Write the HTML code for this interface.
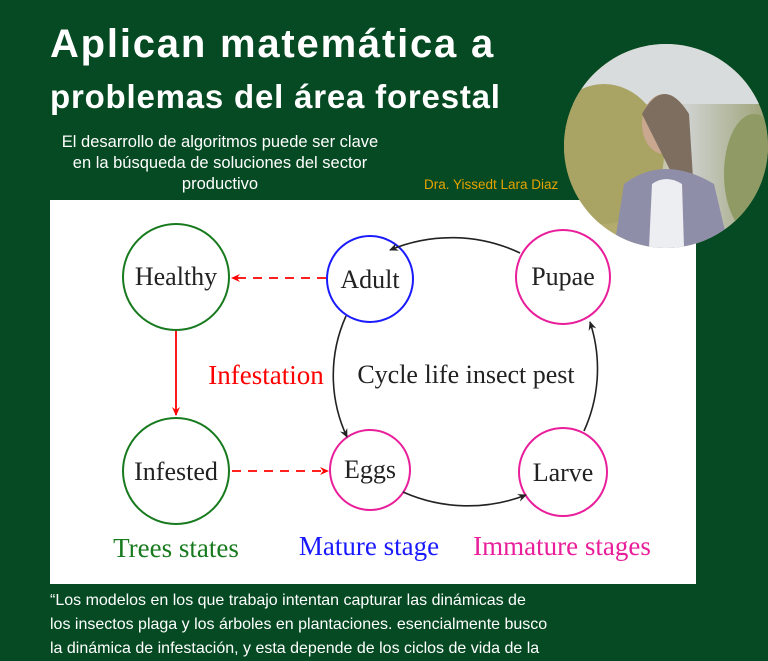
<!DOCTYPE html>
<html><head><meta charset="utf-8"><style>
body{margin:0;width:768px;height:660px;background:#054a22;overflow:hidden;position:relative;font-family:"Liberation Sans","DejaVu Sans",sans-serif;color:#fff}
.t{position:absolute;left:50px;font-weight:bold;white-space:nowrap}
.sub{position:absolute;left:58px;width:324px;text-align:center;font-size:16.5px;line-height:21px;top:132px}
.dra{position:absolute;left:424px;top:177px;font-size:13.5px;color:#e8a200;white-space:nowrap}
.panel{position:absolute;left:50px;top:200px;width:646px;height:384px;background:#fff}
.q{position:absolute;left:50px;top:589px;font-size:16px;line-height:24px;white-space:nowrap}
.photo{position:absolute;left:564px;top:44px;width:204px;height:204px;border-radius:50%;overflow:hidden;background:linear-gradient(90deg,#a8a46a 0%,#b6ad6e 30%,#cfd2cf 60%,#9da276 100%)}
</style></head><body>
<div class="t" style="top:22px;font-size:40px;letter-spacing:1.8px">Aplican matemática a</div>
<div class="t" style="top:78px;font-size:33px;letter-spacing:0.8px">problemas del área forestal</div>
<div class="sub">El desarrollo de algoritmos puede ser clave en la búsqueda de soluciones del sector productivo</div>
<div class="dra">Dra. Yissedt Lara Diaz</div>
<div class="panel"></div>
<div class="photo"><svg width="204" height="204">
<rect x="0" y="0" width="204" height="60" fill="#d8dcdc"/>
<ellipse cx="40" cy="110" rx="60" ry="70" fill="#a9a364"/>
<ellipse cx="190" cy="130" rx="30" ry="60" fill="#8f9a64"/>
<ellipse cx="100" cy="80" rx="22" ry="30" fill="#c9a88f"/>
<path d="M78 70 Q100 30 125 70 L130 150 L118 150 Z" fill="#7e6e60"/>
<path d="M50 204 L60 140 Q100 110 150 140 L165 204 Z" fill="#8f8ea8"/>
<path d="M85 204 L88 140 Q102 130 118 140 L120 204 Z" fill="#eceef2"/>
</svg></div>
<svg style="position:absolute;left:0;top:0" width="768" height="660" font-family="Liberation Serif,serif" font-size="26">
<defs>
<marker id="k" markerWidth="10" markerHeight="10" refX="8" refY="5" orient="auto" markerUnits="userSpaceOnUse"><path d="M0,1 L9,5 L0,9 L3,5Z" fill="#222"/></marker>
<marker id="r" markerWidth="10" markerHeight="10" refX="8" refY="5" orient="auto" markerUnits="userSpaceOnUse"><path d="M0,1 L9,5 L0,9 L3,5Z" fill="#f00"/></marker>
</defs>
<g fill="none" stroke-width="2">
<circle cx="176" cy="277" r="53" stroke="#187a1e"/>
<circle cx="176" cy="471" r="53" stroke="#187a1e"/>
<circle cx="370" cy="279" r="43" stroke="#1a1aff"/>
<circle cx="563" cy="277" r="47" stroke="#e91e9a"/>
<circle cx="370" cy="470" r="40" stroke="#e91e9a"/>
<circle cx="563" cy="472" r="44" stroke="#e91e9a"/>
</g>
<g fill="none" stroke="#222" stroke-width="1.6">
<path d="M520 253 A160 160 0 0 0 390 250" marker-end="url(#k)"/>
<path d="M346 316 A145 145 0 0 0 347 437" marker-end="url(#k)"/>
<path d="M403 492 A160 160 0 0 0 526 495" marker-end="url(#k)"/>
<path d="M584 431 A150 150 0 0 0 590 322" marker-end="url(#k)"/>
</g>
<g stroke="#f00" stroke-width="1.8" fill="none">
<path d="M326 278 L232 278" stroke-dasharray="9,7" marker-end="url(#r)"/>
<path d="M232 471 L328 471" stroke-dasharray="9,7" marker-end="url(#r)"/>
<path d="M176 331 L176 415" marker-end="url(#r)"/>
</g>
<g fill="#222" text-anchor="middle">
<text x="176" y="285">Healthy</text>
<text x="176" y="480">Infested</text>
<text x="370" y="288">Adult</text>
<text x="563" y="285">Pupae</text>
<text x="370" y="478">Eggs</text>
<text x="563" y="481">Larve</text>
<text x="466" y="383">Cycle life insect pest</text>
</g>
<g font-size="27" text-anchor="middle">
<text x="266" y="384" fill="#f00">Infestation</text>
<text x="176" y="557" fill="#187a1e">Trees states</text>
<text x="369" y="555" fill="#1a1aff">Mature stage</text>
<text x="562" y="555" fill="#e91e9a">Immature stages</text>
</g>
</svg>
<div class="q">“Los modelos en los que trabajo intentan capturar las dinámicas de<br>los insectos plaga y los árboles en plantaciones. esencialmente busco<br>la dinámica de infestación, y esta depende de los ciclos de vida de la</div>
</body></html>
